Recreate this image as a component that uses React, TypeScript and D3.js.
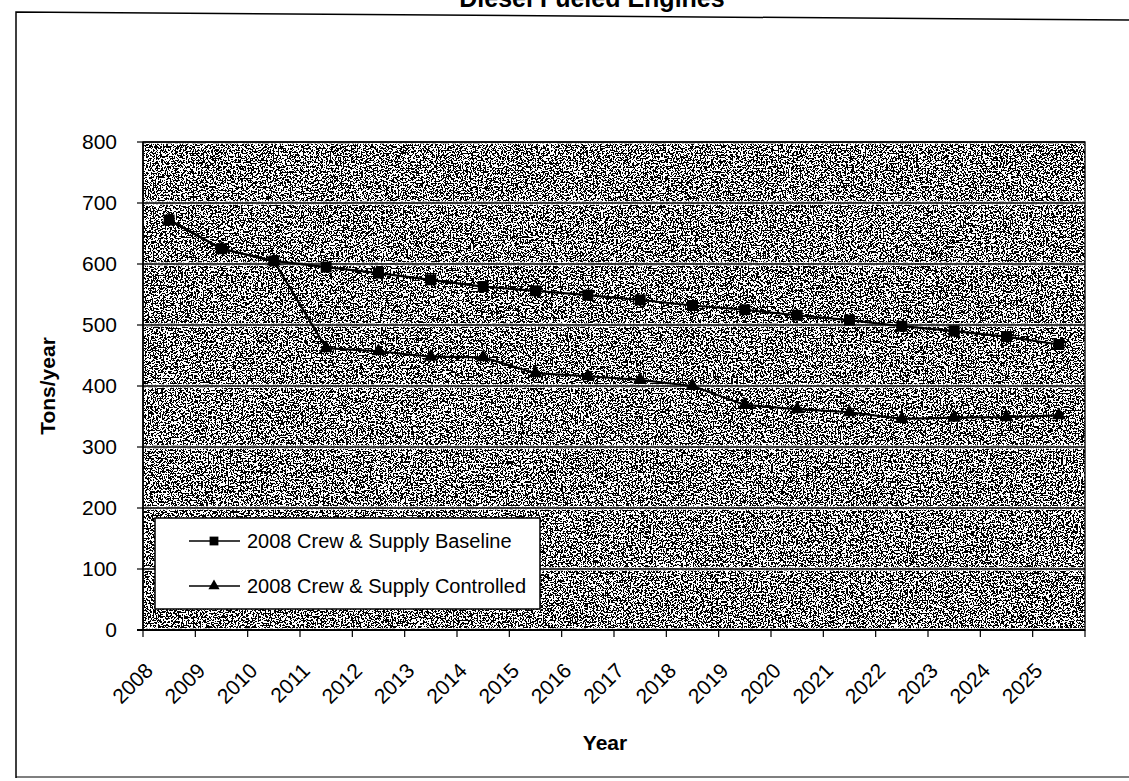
import React from "react";
import * as d3 from "d3";

// Category axis: one band per year
const years = [
  "2008", "2009", "2010", "2011", "2012", "2013", "2014", "2015", "2016",
  "2017", "2018", "2019", "2020", "2021", "2022", "2023", "2024", "2025",
];

// Tons/year per series
const baseline = [672, 625, 605, 595, 585, 574, 563, 556, 549, 541, 532, 525, 516, 508, 498, 490, 481, 468];
const controlled = [672, 625, 605, 462, 457, 448, 447, 421, 416, 410, 400, 369, 362, 357, 346, 348, 349, 352];

const yTicks = [0, 100, 200, 300, 400, 500, 600, 700, 800];
const seriesNames = ["2008 Crew & Supply Baseline", "2008 Crew & Supply Controlled"];
const chartTitle = "Diesel Fueled Engines";
const xTitle = "Year";
const yTitle = "Tons/year";

const FONT = "'Liberation Sans', Arial, Helvetica, sans-serif";

export default function App() {
  const W = 1129;
  const H = 781;
  const plot = { left: 143, right: 1085, top: 142, bottom: 630 };

  const x = d3.scaleBand<string>().domain(years).range([plot.left, plot.right]);
  const y = d3.scaleLinear().domain([0, 800]).range([plot.bottom, plot.top]);
  const cx = (i: number) => (x(years[i]) as number) + x.bandwidth() / 2;

  const line = d3
    .line<number>()
    .x((_, i) => cx(i))
    .y((d) => y(d));

  const squarePath = d3.symbol(d3.symbolSquare, 121)() as string;
  const trianglePath = d3.symbol(d3.symbolTriangle, 85)() as string;

  // band boundaries for category ticks
  const bandEdges = years.map((yr) => x(yr) as number).concat([plot.right]);

  const legend = { x: 155, y: 518, w: 385, h: 91 };

  return (
    <div style={{ position: "absolute", left: 0, top: 0 }}>
      <svg width={W} height={H} viewBox={`0 0 ${W} ${H}`} style={{ display: "block", background: "#fff" }}>
        <defs>
          <filter
            id="grain"
            x="0"
            y="0"
            width="100%"
            height="100%"
            filterUnits="objectBoundingBox"
            colorInterpolationFilters="sRGB"
          >
            <feTurbulence type="fractalNoise" baseFrequency="0.6" numOctaves={4} seed={11} result="noise" />
            <feColorMatrix
              in="noise"
              type="matrix"
              values="1 0 0 0 0  1 0 0 0 0  1 0 0 0 0  0 0 0 0 1"
            />
            <feComponentTransfer>
              <feFuncR type="discrete" tableValues="0 1" />
              <feFuncG type="discrete" tableValues="0 1" />
              <feFuncB type="discrete" tableValues="0 1" />
            </feComponentTransfer>
          </filter>
          <clipPath id="plotClip">
            <rect x={plot.left} y={plot.top} width={plot.right - plot.left} height={plot.bottom - plot.top} />
          </clipPath>
        </defs>

        {/* outer chart frame */}
        <path d={`M16,778 L16,12 L1129,20`} fill="none" stroke="#000" strokeWidth={1.5} />
        <path d={`M16,777 L1129,777`} fill="none" stroke="#000" strokeWidth={1.2} />

        {/* title, running off the top edge */}
        <text x={592} y={7} textAnchor="middle" fontFamily={FONT} fontWeight="bold" fontSize={25}>
          {chartTitle}
        </text>

        {/* grainy plot area */}
        <g clipPath="url(#plotClip)">
          <rect
            x={plot.left}
            y={plot.top}
            width={plot.right - plot.left}
            height={plot.bottom - plot.top}
            fill="#888"
            filter="url(#grain)"
          />
        </g>

        {/* horizontal gridlines with a light halo */}
        {yTicks.map((t) => (
          <g key={`g${t}`}>
            <line x1={plot.left} x2={plot.right} y1={y(t)} y2={y(t)} stroke="#fff" strokeOpacity={0.7} strokeWidth={4} />
            <line x1={plot.left} x2={plot.right} y1={y(t)} y2={y(t)} stroke="#000" strokeWidth={1.3} />
          </g>
        ))}
        <rect
          x={plot.left}
          y={plot.top}
          width={plot.right - plot.left}
          height={plot.bottom - plot.top}
          fill="none"
          stroke="#000"
          strokeWidth={1.3}
        />

        {/* y axis */}
        <line x1={plot.left} x2={plot.left} y1={plot.top} y2={plot.bottom} stroke="#000" strokeWidth={1.5} />
        {yTicks.map((t) => (
          <g key={`y${t}`}>
            <line x1={plot.left - 6} x2={plot.left} y1={y(t)} y2={y(t)} stroke="#000" strokeWidth={1.2} />
            <text x={117} y={y(t)} dy="0.35em" textAnchor="end" fontFamily={FONT} fontSize={21}>
              {t}
            </text>
          </g>
        ))}
        <text
          transform={`translate(55,386) rotate(-90)`}
          textAnchor="middle"
          fontFamily={FONT}
          fontWeight="bold"
          fontSize={21}
        >
          {yTitle}
        </text>

        {/* x axis */}
        <line x1={plot.left - 6} x2={plot.right} y1={plot.bottom} y2={plot.bottom} stroke="#000" strokeWidth={2} />
        {bandEdges.map((bx, i) => (
          <line key={`xt${i}`} x1={bx} x2={bx} y1={plot.bottom} y2={plot.bottom + 7} stroke="#000" strokeWidth={1.2} />
        ))}
        {years.map((yr, i) => (
          <text
            key={`xl${yr}`}
            transform={`translate(${cx(i) - 15},${plot.bottom + 42}) rotate(-45)`}
            textAnchor="end"
            fontFamily={FONT}
            fontSize={21}
          >
            {yr}
          </text>
        ))}
        <text x={605} y={750} textAnchor="middle" fontFamily={FONT} fontWeight="bold" fontSize={21}>
          {xTitle}
        </text>

        {/* series */}
        <path d={line(controlled) as string} fill="none" stroke="#000" strokeWidth={2.2} />
        {controlled.map((v, i) => (
          <path key={`c${i}`} d={trianglePath} transform={`translate(${cx(i)},${y(v)})`} fill="#000" />
        ))}
        <path d={line(baseline) as string} fill="none" stroke="#000" strokeWidth={2.2} />
        {baseline.map((v, i) => (
          <path key={`b${i}`} d={squarePath} transform={`translate(${cx(i)},${y(v)})`} fill="#000" />
        ))}

        {/* legend */}
        <rect x={legend.x} y={legend.y} width={legend.w} height={legend.h} fill="#fff" stroke="#000" strokeWidth={1.5} />
        {seriesNames.map((name, i) => {
          const ly = legend.y + 23 + i * 45;
          return (
            <g key={name}>
              <line x1={189} x2={240} y1={ly} y2={ly} stroke="#000" strokeWidth={1.5} />
              <path d={i === 0 ? squarePath : trianglePath} transform={`translate(214,${ly}) scale(0.8)`} fill="#000" />
              <text x={247} y={ly} dy="0.35em" fontFamily={FONT} fontSize={20}>
                {name}
              </text>
            </g>
          );
        })}
      </svg>
    </div>
  );
}
